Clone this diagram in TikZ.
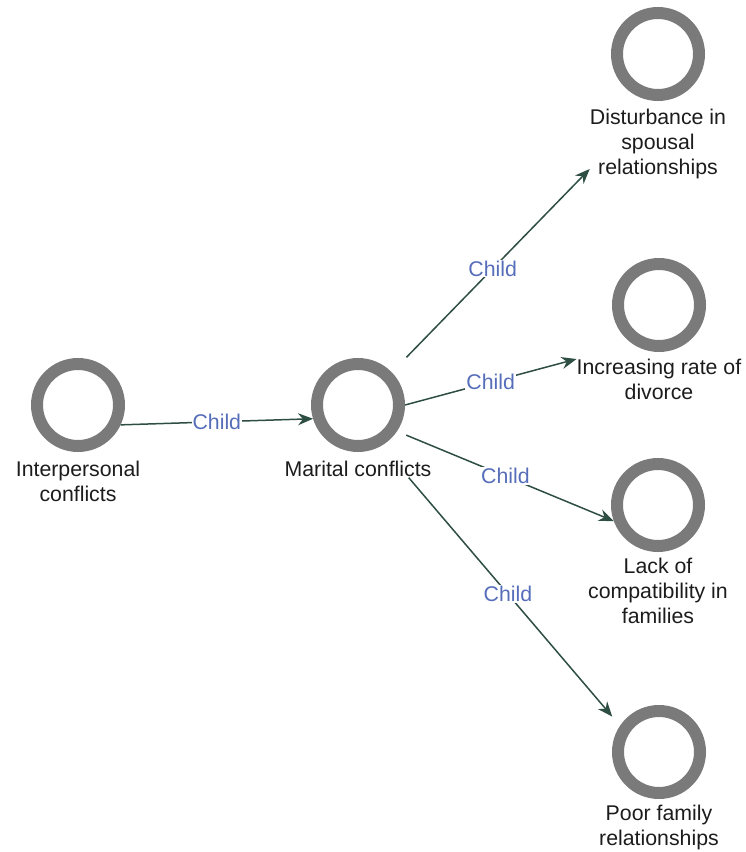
\documentclass[tikz,border=0pt]{standalone}
\usepackage{fontspec}
\setmainfont{Liberation Sans}
\usepackage{xcolor}
\usetikzlibrary{arrows.meta,positioning}
\definecolor{RING}{RGB}{122,122,122}
\definecolor{INK}{RGB}{28,28,28}
\definecolor{EDGEDK}{RGB}{46,78,68}
\definecolor{CHILDBL}{RGB}{86,110,186}

\begin{document}
\begin{tikzpicture}[x=1pt,y=-1pt,>={Stealth[length=15pt,width=12pt]},node distance=8pt,font=\fontsize{21.3}{25}\selectfont]
    \tikzset{concept/.style={circle,draw=RING,line width=12pt,minimum size=82pt,inner sep=0pt},
      lbl/.style={align=center,inner sep=0pt,text=INK},
      edge/.style={->,EDGEDK,line width=1.5pt},
      tag/.style={fill=white,text=CHILDBL,inner sep=1pt}}
    \useasboundingbox (0,0) rectangle (745,852);
    \node[concept] (ipc) at (78,405) {};
    \node[concept] (mar) at (358,405) {};
    \node[concept] (dis) at (658,54) {};
    \node[concept] (inc) at (659,305) {};
    \node[concept] (lack) at (658,505) {};
    \node[concept] (poor) at (659,752) {};
    \node[lbl,below=9pt of ipc] (ipcl) {Interpersonal\\conflicts};
    \node[lbl,below=9pt of mar] (marl) {Marital conflicts};
    \node[lbl,below=8pt of dis] (disl) {Disturbance in\\spousal\\relationships};
    \node[lbl,below=7pt of inc] (incl) {Increasing rate of\\divorce};
    \node[lbl,below=6pt of lack] (lackl) {Lack of\\compatibility in\\families};
    \node[lbl,below=6pt of poor] (poorl) {Poor family\\relationships};
    \draw[edge] (ipc.-25)--(mar.197) node[midway,tag]{Child};
    \draw[edge,shorten <=21pt] (mar.44)--(disl.-160) node[pos=0.51,tag]{Child};
    \draw[edge] (mar.east)--(incl.north west) node[midway,tag]{Child};
    \draw[edge,shorten <=10pt] (mar.-34)--(lack.200) node[midway,tag]{Child};
    \draw[edge,shorten <=42pt,shorten >=12pt] (mar.-60)--(poor.146) node[pos=0.53,tag]{Child};
  \end{tikzpicture}
\end{document}
